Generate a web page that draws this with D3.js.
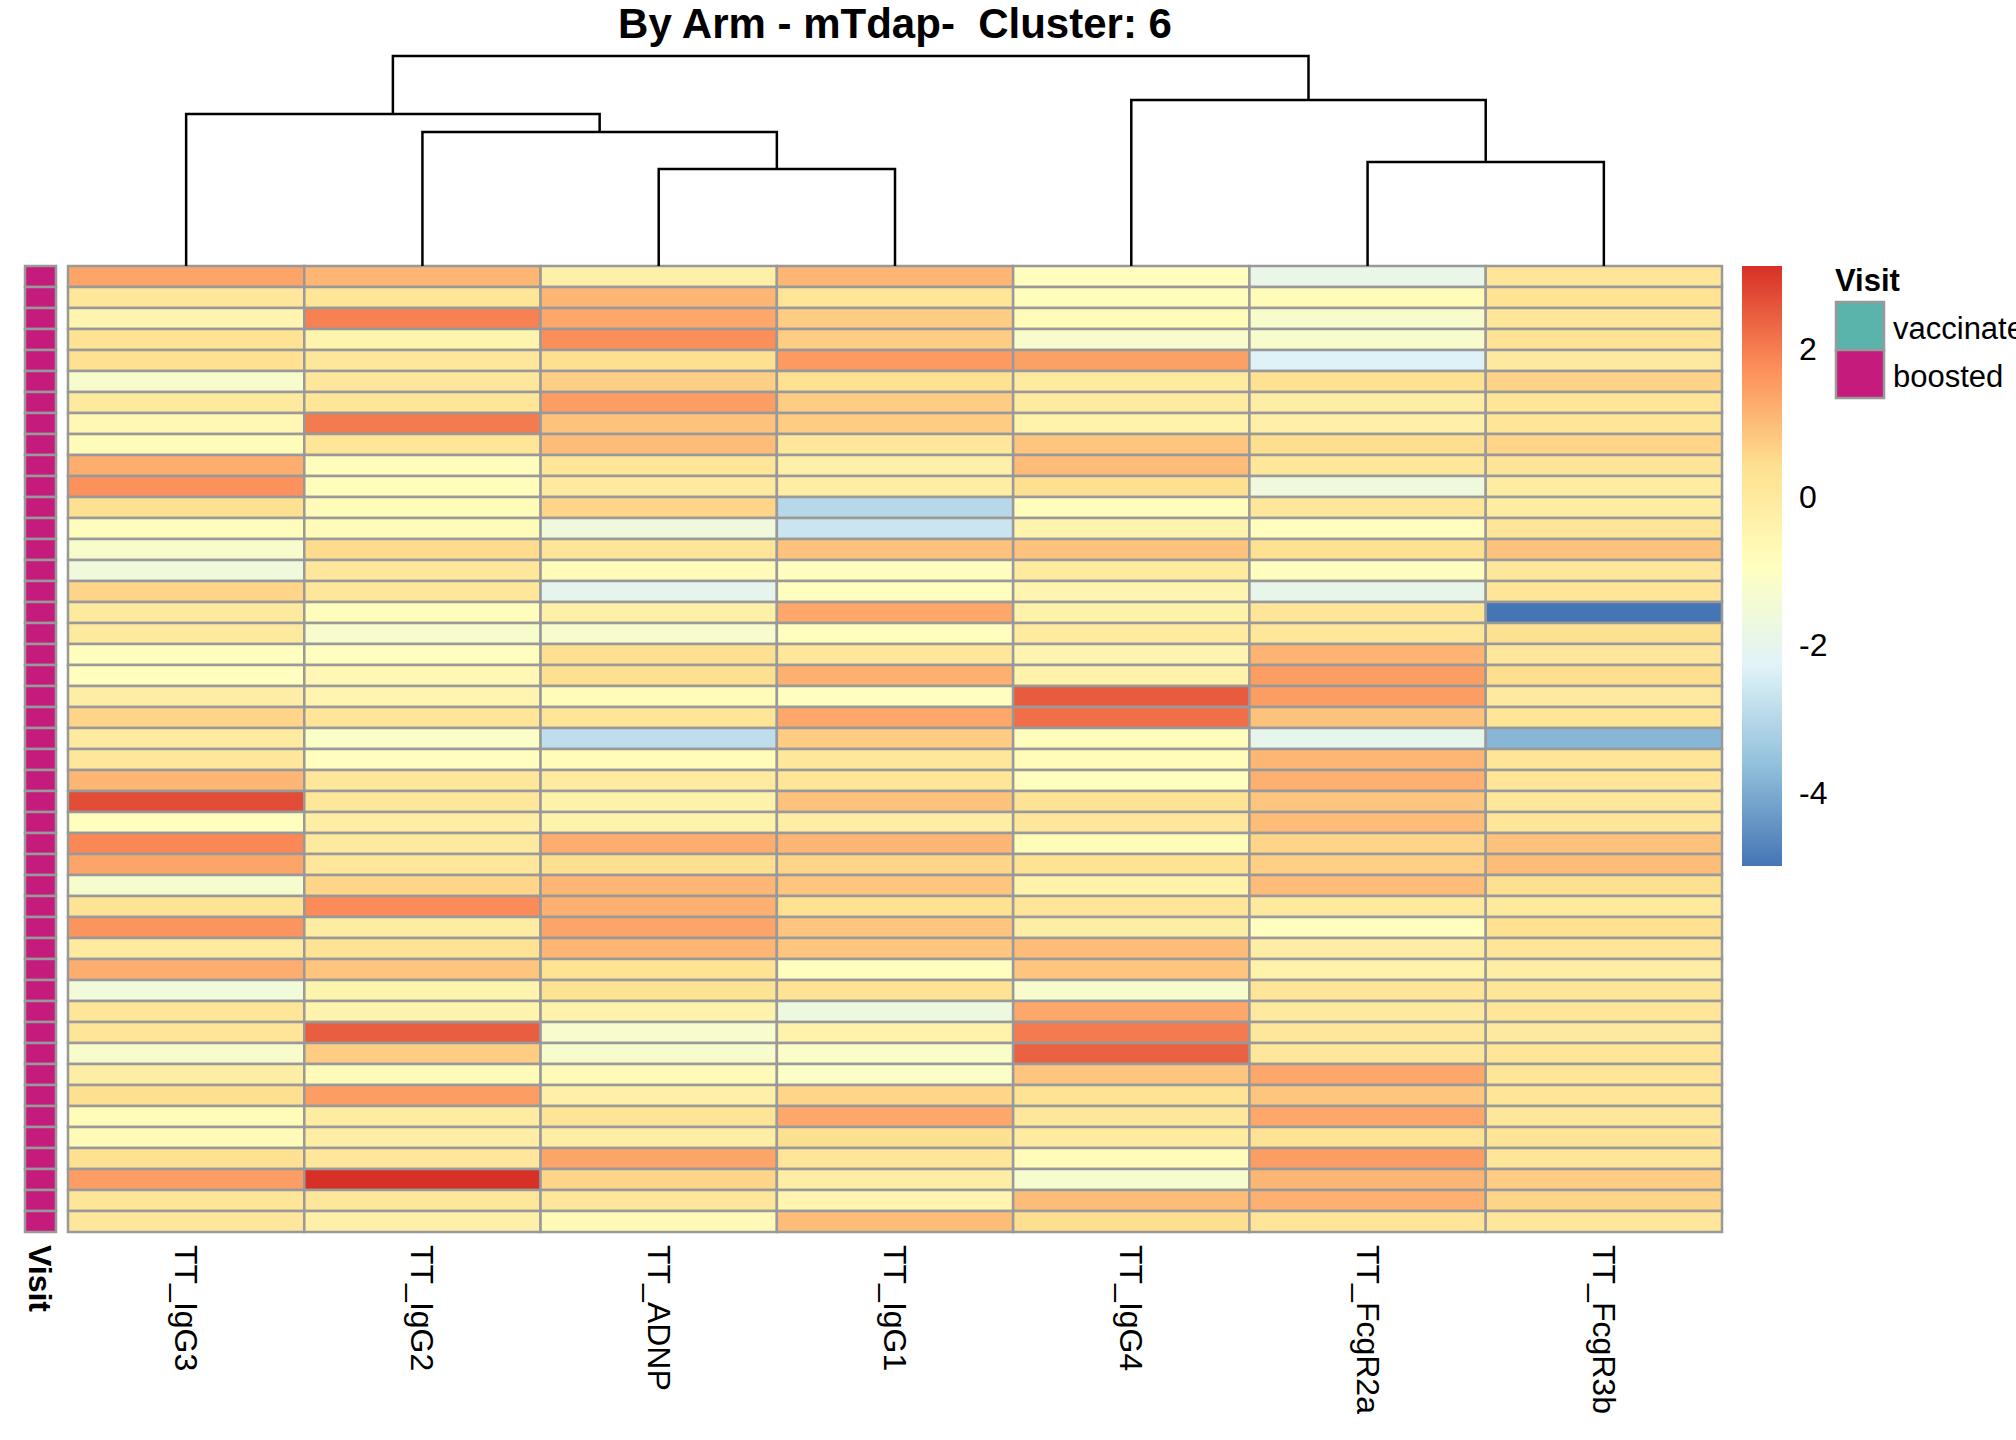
<!DOCTYPE html>
<html>
<head>
<meta charset="utf-8">
<script src="https://cdn.jsdelivr.net/npm/d3@7"></script>
<style>
  body { margin: 0; background: #fff; }
  svg { display: block; font-family: "Liberation Sans", Arial, sans-serif; }
</style>
</head>
<body>
<div id="chart"></div>
<script>
// column order as shown (after clustering)
const features = ["TT_IgG3", "TT_IgG2", "TT_ADNP", "TT_IgG1", "TT_IgG4", "TT_FcgR2a", "TT_FcgR3b"];

const visitLevels = ["vaccinated", "boosted"];
const visitColors = ["#5AB4AC", "#C51B7D"];

const rowVisit = [
  "boosted", "boosted", "boosted", "boosted", "boosted", "boosted", "boosted", "boosted",
  "boosted", "boosted", "boosted", "boosted", "boosted", "boosted", "boosted", "boosted",
  "boosted", "boosted", "boosted", "boosted", "boosted", "boosted", "boosted", "boosted",
  "boosted", "boosted", "boosted", "boosted", "boosted", "boosted", "boosted", "boosted",
  "boosted", "boosted", "boosted", "boosted", "boosted", "boosted", "boosted", "boosted",
  "boosted", "boosted", "boosted", "boosted", "boosted", "boosted"
];

// z-scores, one row per sample, columns in the order of `features`
const values = [
  [1.4, 1.1, -0.3, 1.1, -0.9, -1.9, 0.2],
  [0.1, 0.2, 1.1, 0.2, -0.85, -0.75, 0.3],
  [-0.5, 1.95, 1.35, 0.75, -0.8, -1.25, 0.2],
  [0.3, -0.45, 1.75, 0.75, -1.25, -1.25, 0.3],
  [0.35, 0.1, 0.4, 1.55, 1.45, -2.3, 0.0],
  [-1.25, 0.1, 0.7, 0.35, -0.05, 0.35, 0.65],
  [0.0, 0.2, 1.5, 0.75, -0.05, -0.15, 0.2],
  [-0.6, 2.05, 0.9, 0.75, -0.35, -0.3, 0.2],
  [-0.75, 0.2, 1.0, 0.1, 0.85, 0.45, 0.6],
  [1.25, -0.85, 0.2, -0.3, 1.0, 0.1, 0.25],
  [1.7, -0.85, 0.0, -0.15, 0.4, -1.6, -0.1],
  [0.4, -0.8, 0.6, -3.0, -0.85, 0.1, -0.1],
  [-0.85, -0.75, -1.6, -2.65, -0.45, -0.9, 0.2],
  [-1.25, 0.5, 0.2, 0.9, 0.9, 0.35, 0.9],
  [-1.6, 0.1, -0.75, -0.9, -0.05, -0.9, 0.1],
  [0.6, 0.1, -2.05, -0.9, -0.5, -1.95, 0.2],
  [0.0, -0.85, -0.3, 1.35, -0.35, 0.2, -4.99],
  [0.0, -1.25, -1.25, -0.9, -0.05, 0.1, 0.4],
  [-0.9, -0.9, 0.4, 0.1, -0.5, 1.15, 0.1],
  [-0.9, -0.6, 0.4, 1.2, -0.35, 1.5, 0.45],
  [-0.15, -0.5, -0.8, -0.9, 2.5, 1.5, 0.0],
  [0.6, 0.2, 0.2, 1.35, 2.2, 0.9, 0.2],
  [-0.05, -1.1, -2.85, 0.75, -0.85, -2.0, -3.8],
  [0.1, -0.9, -0.75, 0.1, -0.75, 1.1, 0.2],
  [1.1, 0.1, -0.05, 0.2, -0.9, 1.2, 0.2],
  [2.7, 0.1, -0.4, 0.9, 0.3, 0.85, 0.1],
  [-0.9, -0.15, -0.4, -0.15, 0.1, 1.0, 0.2],
  [1.85, 0.0, 1.25, 1.1, -0.75, 0.6, 0.9],
  [1.4, 0.1, 0.4, 0.6, 0.3, 0.7, 1.0],
  [-1.3, 0.6, 1.1, 0.85, -0.4, 1.0, 0.4],
  [0.3, 1.8, 1.2, 0.35, 0.2, 0.0, 0.0],
  [1.65, -0.1, 1.4, 0.85, -0.15, -0.9, 0.35],
  [-0.05, 0.3, 1.1, 0.85, 1.0, -0.15, 0.2],
  [1.25, 0.85, 0.3, -0.9, 0.85, -0.4, -0.15],
  [-1.55, -0.45, 0.3, 0.3, -1.25, 0.2, 0.2],
  [0.2, -0.45, -0.4, -1.7, 1.35, 0.0, 0.2],
  [0.2, 2.45, -1.25, -0.35, 2.05, 0.1, 0.0],
  [-1.25, 0.75, -1.25, -1.15, 2.4, 0.1, 0.2],
  [-0.15, -0.7, -0.7, -1.1, 0.85, 1.35, 0.2],
  [0.4, 1.5, -0.3, 0.6, 0.3, 0.85, 0.2],
  [-0.75, -0.1, 0.25, 1.35, 0.1, 1.35, 0.1],
  [-0.7, -0.15, -0.15, 0.4, -0.05, 0.3, 0.25],
  [0.35, 0.1, 1.4, 0.2, -0.75, 1.5, 0.2],
  [1.5, 3.12, 0.6, -0.15, -1.3, 1.1, 0.75],
  [0.2, 0.1, 0.1, -0.5, 1.0, 1.2, 0.6],
  [0.1, -0.3, -0.7, 1.0, 0.45, 0.2, 0.1]
];

// column clustering, hclust style: negative = leaf index (1-based), positive = earlier merge
const merge = [[-3, -4], [-2, 1], [-1, 2], [-6, -7], [-5, 4], [3, 5]];
const mergeHeight = [9.7, 13.4, 15.2, 10.4, 16.6, 21.0];

const legendTicks = [2, 0, -2, -4];
const palette = ["#4575B4", "#91BFDB", "#E0F3F8", "#FFFFBF", "#FEE090", "#FC8D59", "#D73027"];

(() => {
    const W = 2016, H = 1440;
    const heat = { left: 68, right: 1722, top: 266, bottom: 1232 };
    const border = "#999999";

    const svg = d3.select("#chart").append("svg")
        .attr("width", W)
        .attr("height", H);

    const x = d3.scaleBand().domain(features).range([heat.left, heat.right]);
    const y = d3.scaleBand().domain(d3.range(values.length)).range([heat.top, heat.bottom]);

    const [vmin, vmax] = d3.extent(values.flat());
    const color = d3.scaleLinear()
        .domain(palette.map((_, i) => vmin + i * (vmax - vmin) / (palette.length - 1)))
        .range(palette)
        .interpolate(d3.interpolateRgb);

    // Title
    svg.append("text")
        .attr("x", (heat.left + heat.right) / 2)
        .attr("y", 38)
        .attr("text-anchor", "middle")
        .style("font-size", "42px")
        .style("font-weight", "bold")
        .style("white-space", "pre")
        .text("By Arm - mTdap-  Cluster: 6");

    // Cells
    const cells = values.flatMap((row, i) => row.map((v, j) => ({ row: i, col: features[j], v })));
    svg.append("g").selectAll("rect")
        .data(cells)
        .enter().append("rect")
        .attr("x", d => x(d.col))
        .attr("y", d => y(d.row))
        .attr("width", x.bandwidth())
        .attr("height", y.bandwidth())
        .attr("fill", d => color(d.v))
        .attr("stroke", border)
        .attr("stroke-width", 2.5);

    // Visit annotation column
    const visitColor = d3.scaleOrdinal().domain(visitLevels).range(visitColors);
    svg.append("g").selectAll("rect")
        .data(rowVisit)
        .enter().append("rect")
        .attr("x", 25)
        .attr("y", (d, i) => y(i))
        .attr("width", 31)
        .attr("height", y.bandwidth())
        .attr("fill", d => visitColor(d))
        .attr("stroke", border)
        .attr("stroke-width", 2.5);

    svg.append("text")
        .attr("transform", `translate(40,${heat.bottom + 13}) rotate(90)`)
        .attr("dominant-baseline", "central")
        .style("font-size", "32px")
        .style("font-weight", "bold")
        .text("Visit");

    // Column labels
    svg.append("g").selectAll("text")
        .data(features)
        .enter().append("text")
        .attr("transform", d => `translate(${x(d) + x.bandwidth() / 2},${heat.bottom + 13}) rotate(90)`)
        .attr("dominant-baseline", "central")
        .style("font-size", "32px")
        .text(d => d);

    // Column dendrogram
    const hY = d3.scaleLinear().domain([0, d3.max(mergeHeight)]).range([heat.top, 56]);
    const nodePos = merge.map(() => null);
    const pos = k => k < 0
        ? { x: x(features[-k - 1]) + x.bandwidth() / 2, y: heat.top }
        : nodePos[k - 1];
    const links = [];
    merge.forEach((m, i) => {
        const a = pos(m[0]), b = pos(m[1]);
        const h = hY(mergeHeight[i]);
        nodePos[i] = { x: (a.x + b.x) / 2, y: h };
        links.push([[a.x, a.y], [a.x, h], [b.x, h], [b.x, b.y]]);
    });
    svg.append("g").selectAll("path")
        .data(links)
        .enter().append("path")
        .attr("d", d3.line())
        .attr("fill", "none")
        .attr("stroke", "#000")
        .attr("stroke-width", 2.5);

    // Colour key
    const key = { left: 1742, width: 40, top: 266, bottom: 866 };
    const keyY = d3.scaleLinear().domain([vmin, vmax]).range([key.bottom, key.top]);
    const grad = svg.append("defs").append("linearGradient")
        .attr("id", "key-grad")
        .attr("x1", 0).attr("y1", 1).attr("x2", 0).attr("y2", 0);
    grad.selectAll("stop")
        .data(color.domain())
        .enter().append("stop")
        .attr("offset", d => (d - vmin) / (vmax - vmin))
        .attr("stop-color", d => color(d));
    svg.append("rect")
        .attr("x", key.left)
        .attr("y", key.top)
        .attr("width", key.width)
        .attr("height", key.bottom - key.top)
        .attr("fill", "url(#key-grad)");
    svg.append("g").selectAll("text")
        .data(legendTicks)
        .enter().append("text")
        .attr("x", 1799)
        .attr("y", d => keyY(d))
        .attr("dominant-baseline", "central")
        .style("font-size", "32px")
        .text(d => d);

    // Visit legend
    svg.append("text")
        .attr("x", 1835)
        .attr("y", 291)
        .style("font-size", "31px")
        .style("font-weight", "bold")
        .text("Visit");
    const leg = svg.append("g").selectAll("g")
        .data(visitLevels)
        .enter().append("g")
        .attr("transform", (d, i) => `translate(1836,${302 + i * 48})`);
    leg.append("rect")
        .attr("width", 48)
        .attr("height", 48)
        .attr("fill", d => visitColor(d))
        .attr("stroke", border)
        .attr("stroke-width", 2.5);
    leg.append("text")
        .attr("x", 57)
        .attr("y", 26)
        .attr("dominant-baseline", "central")
        .style("font-size", "31px")
        .text(d => d);
})();
</script>
</body>
</html>
